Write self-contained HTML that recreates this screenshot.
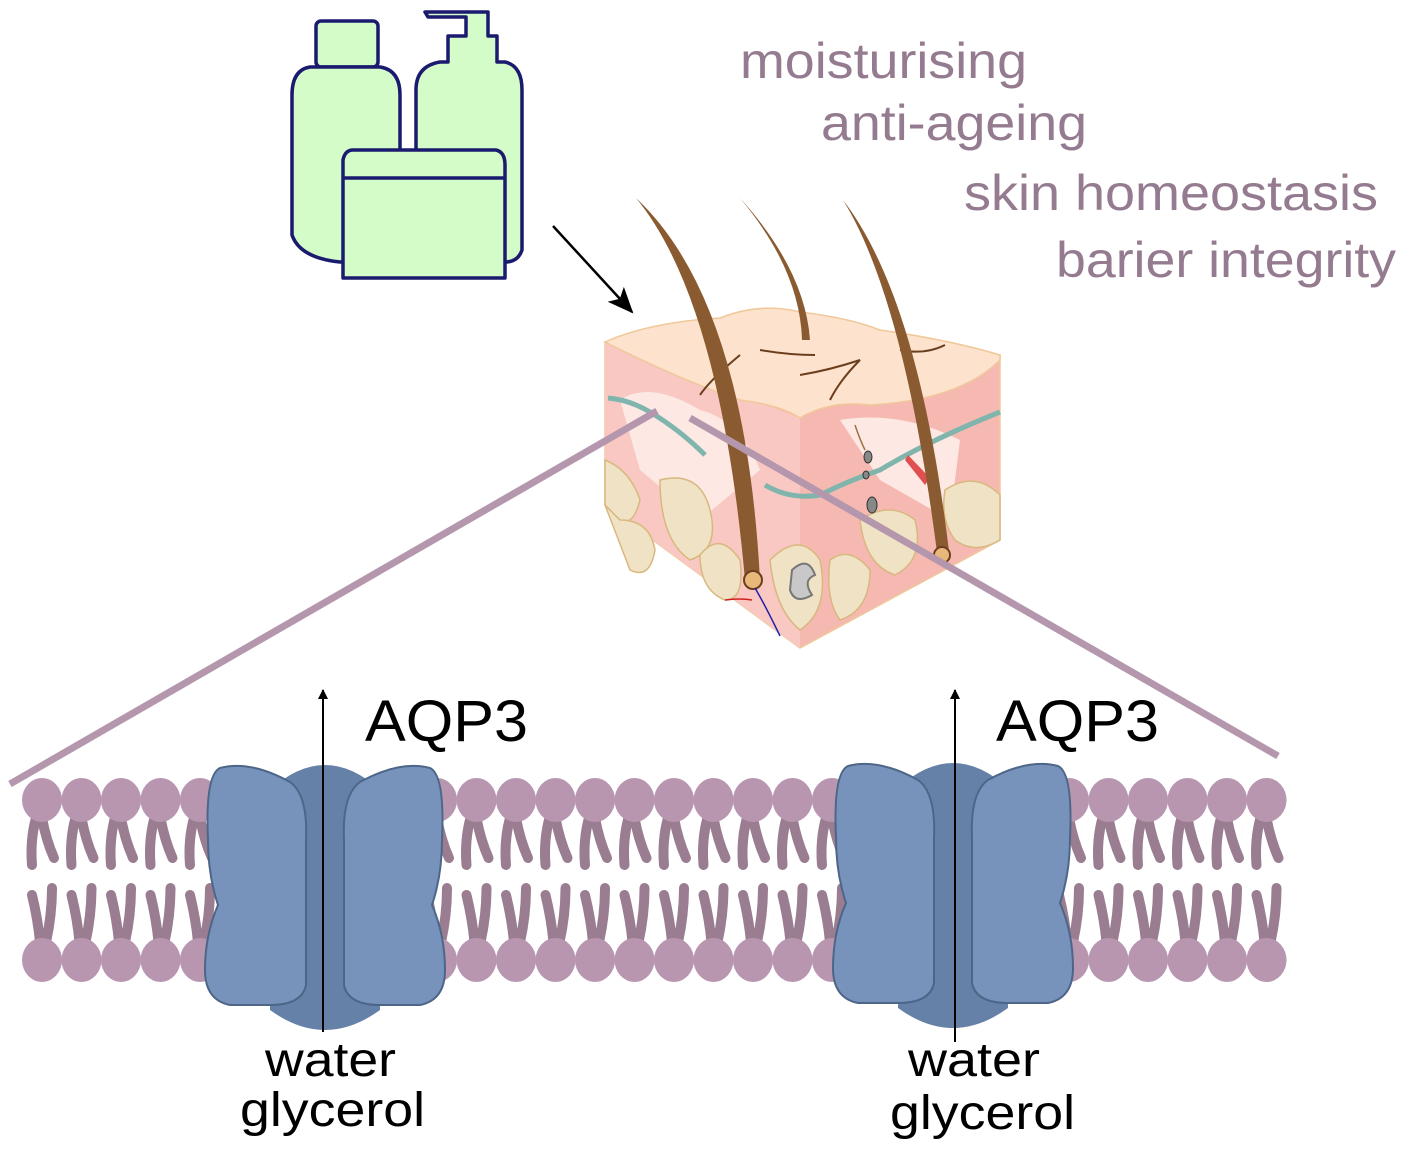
<!DOCTYPE html>
<html><head><meta charset="utf-8"><style>
html,body{margin:0;padding:0;background:#fff}
svg{display:block}
text{font-family:"Liberation Sans",sans-serif}
</style></head><body>
<svg id="s" width="1407" height="1154" viewBox="0 0 1407 1154" xmlns="http://www.w3.org/2000/svg">
<defs>
<marker id="ah" markerWidth="10" markerHeight="10" refX="9" refY="5" orient="auto" markerUnits="userSpaceOnUse"><path d="M0,0 L10,5 L0,10 Z" fill="#000"/></marker>
<marker id="ah2" markerWidth="26" markerHeight="22" refX="24" refY="11" orient="auto" markerUnits="userSpaceOnUse"><path d="M0,0 L26,11 L0,22 L6,11 Z" fill="#000"/></marker>
</defs>
<!-- bottles -->
<g fill="#d4fcc8" stroke="#1a1a6e" stroke-width="3.5" stroke-linejoin="round">
<rect x="316" y="21" width="62" height="46" rx="5"/>
<path d="M310,67 H380 Q400,70 400,95 V262 H340 Q300,258 292,235 V95 Q292,70 310,67 Z"/>
<path d="M425,12 H488 V36 H497 V62 H505 Q522,66 522,90 V250 Q518,262 505,262 H416 V90 Q416,66 440,62 H448 V36 H466 V17 H428 Z"/>
<path d="M353,150 H496 Q505,152 505,165 V278 H343 V160 Q345,150 353,150 Z"/>
<line x1="343" y1="178" x2="505" y2="178"/>
</g>
<line x1="553" y1="226" x2="632" y2="312" stroke="#000" stroke-width="2.5" marker-end="url(#ah2)"/>
<g fill="#957b8f" font-size="50">
<text x="740" y="78" textLength="287" lengthAdjust="spacingAndGlyphs">moisturising</text>
<text x="821" y="140" textLength="266" lengthAdjust="spacingAndGlyphs">anti-ageing</text>
<text x="964" y="210" textLength="414" lengthAdjust="spacingAndGlyphs">skin homeostasis</text>
<text x="1056" y="277" textLength="340" lengthAdjust="spacingAndGlyphs">barier integrity</text>
</g>
<!-- skin block -->
<g>
<path d="M605,342 V505 L800,648 L1000,540 V355 Z" fill="#f6b9b2" stroke="#f0c89a" stroke-width="1.5"/>
<path d="M605,342 V505 L800,648 V418 Z" fill="#f9c8c2"/>
<path d="M620,400 Q650,380 700,410 Q740,420 760,470 L700,520 L640,470 Z" fill="#fde8e4"/>
<path d="M840,420 Q900,410 960,440 L950,520 L880,480 Z" fill="#fde8e4"/>
<g fill="#f0e2c4" stroke="#d9b87f" stroke-width="1.5">
<path d="M605,460 Q630,470 640,500 Q630,540 605,505 Z"/>
<path d="M660,480 Q700,470 710,510 Q720,550 690,560 Q660,540 660,480 Z"/>
<path d="M700,555 Q720,530 740,560 Q745,600 725,600 Q700,590 700,555 Z"/>
<path d="M770,560 Q800,530 820,560 Q830,610 800,630 Q775,610 770,560 Z"/>
<path d="M860,520 Q890,500 915,520 Q925,560 895,575 Q865,565 860,520 Z"/>
<path d="M830,560 Q850,545 870,570 Q870,610 840,620 Q825,600 830,560 Z"/>
<path d="M945,490 Q975,470 1000,495 V540 Q975,555 955,540 Q940,520 945,490 Z"/>
<path d="M620,520 Q650,520 655,550 Q650,580 630,570 L605,505 Z"/>
</g>
<path d="M605,342 Q650,322 720,318 Q760,302 800,312 Q850,318 880,330 Q950,340 1000,355 L1000,360 Q960,400 870,405 Q830,400 800,418 Q780,405 740,400 Q680,380 605,342 Z" fill="#fde3cd" stroke="#f0c89a" stroke-width="1.5"/>
<path d="M608,398 Q630,400 650,412 Q680,430 705,455 M765,485 Q790,500 820,495 Q850,480 880,470 Q930,440 1000,412" fill="none" stroke="#7fb5ad" stroke-width="5"/>
<path d="M855,425 Q860,440 865,450" stroke="#a07040" stroke-width="1.5" fill="none"/>
<ellipse cx="868" cy="457" rx="4" ry="6" fill="#888" stroke="#333"/>
<ellipse cx="866" cy="475" rx="3" ry="4" fill="#888" stroke="#333"/>
<ellipse cx="872" cy="505" rx="5" ry="8" fill="#888" stroke="#333"/>
<path d="M792,570 Q808,555 815,575 Q802,580 812,595 Q795,605 790,590 Z" fill="#c8c8c8" stroke="#777" stroke-width="2"/>
<path d="M905,460 L925,485 L930,478 L908,455 Z" fill="#e05050"/>
<path d="M700,395 Q710,380 740,355 M760,350 Q790,355 815,355 M900,350 Q925,355 945,345 M800,375 Q830,370 860,360 Q840,380 830,400" stroke="#6b3e1e" stroke-width="2" fill="none"/>
<path d="M636,198 Q720,300 745,580 L760,580 Q745,300 636,198 Z" fill="#8a5a30"/>
<path d="M740,198 Q800,270 802,340 L810,340 Q805,270 740,198 Z" fill="#8a5a30"/>
<path d="M843,200 Q905,300 938,560 L950,560 Q920,300 843,200 Z" fill="#8a5a30"/>
<circle cx="753" cy="580" r="9" fill="#e8b77a" stroke="#6b3e1e" stroke-width="2"/>
<circle cx="942" cy="555" r="8" fill="#e8b77a" stroke="#6b3e1e" stroke-width="2"/>
<path d="M755,588 Q765,605 780,636" stroke="#2020b0" stroke-width="1.5" fill="none"/>
<path d="M725,600 Q740,598 752,600" stroke="#d02020" stroke-width="1.5" fill="none"/>
</g>
<g stroke="#b497ad" stroke-width="7">
<line x1="10" y1="784" x2="657" y2="411"/>
<line x1="690" y1="418" x2="1278" y2="756"/>
</g>
<g id="mem"></g>
<!-- proteins -->
<g id="p1">
<path d="M270,790 Q325,740 380,790 V1010 Q325,1050 270,1010 Z" fill="#6581a8"/>
<path d="M220,768 Q250,760 290,782 Q308,795 306,840 V985 Q302,1005 270,1005 H230 Q205,1000 205,970 Q205,935 218,905 Q208,875 208,840 Q205,775 220,768 Z" fill="#7793bc" stroke="#4d6688" stroke-width="2"/>
<path d="M430,768 Q400,760 360,782 Q342,795 344,840 V985 Q348,1005 380,1005 H420 Q445,1000 445,970 Q445,935 432,905 Q442,875 442,840 Q445,775 430,768 Z" fill="#7793bc" stroke="#4d6688" stroke-width="2"/>
</g>
<use href="#p1" transform="translate(628,-2)"/>
<line x1="323" y1="1032" x2="323" y2="690" stroke="#000" stroke-width="2" marker-end="url(#ah)"/>
<line x1="955" y1="1042" x2="955" y2="690" stroke="#000" stroke-width="2" marker-end="url(#ah)"/>
<g fill="#000">
<text x="365" y="741" font-size="58" textLength="163" lengthAdjust="spacingAndGlyphs">AQP3</text>
<text x="996" y="741" font-size="58" textLength="163" lengthAdjust="spacingAndGlyphs">AQP3</text>
<g font-size="48">
<text x="265" y="1076" textLength="131" lengthAdjust="spacingAndGlyphs">water</text>
<text x="240" y="1126" textLength="185" lengthAdjust="spacingAndGlyphs">glycerol</text>
<text x="908" y="1076" textLength="132" lengthAdjust="spacingAndGlyphs">water</text>
<text x="890" y="1129" textLength="185" lengthAdjust="spacingAndGlyphs">glycerol</text>
</g>
</g>
</svg>
<script>
var g=document.getElementById('mem'),h='';
for(var x=42;x<=1272;x+=39.5){
 h+='<path d="M'+(x-6)+',818 Q'+(x-12)+',840 '+(x-10)+',865" stroke="#9a7d90" stroke-width="10" stroke-linecap="round" fill="none"/>';
 h+='<path d="M'+(x)+',818 Q'+(x+4)+',840 '+(x+12)+',858" stroke="#9a7d90" stroke-width="10" stroke-linecap="round" fill="none"/>';
 h+='<path d="M'+(x-10)+',895 Q'+(x-4)+',920 '+(x-2)+',942" stroke="#9a7d90" stroke-width="10" stroke-linecap="round" fill="none"/>';
 h+='<path d="M'+(x+10)+',888 Q'+(x+10)+',915 '+(x+4)+',942" stroke="#9a7d90" stroke-width="10" stroke-linecap="round" fill="none"/>';
 h+='<ellipse cx="'+x+'" cy="800" rx="20" ry="22" fill="#b896b0"/>';
 h+='<ellipse cx="'+x+'" cy="960" rx="20" ry="22" fill="#b896b0"/>';
}
g.innerHTML=h;
</script>
</body></html>
